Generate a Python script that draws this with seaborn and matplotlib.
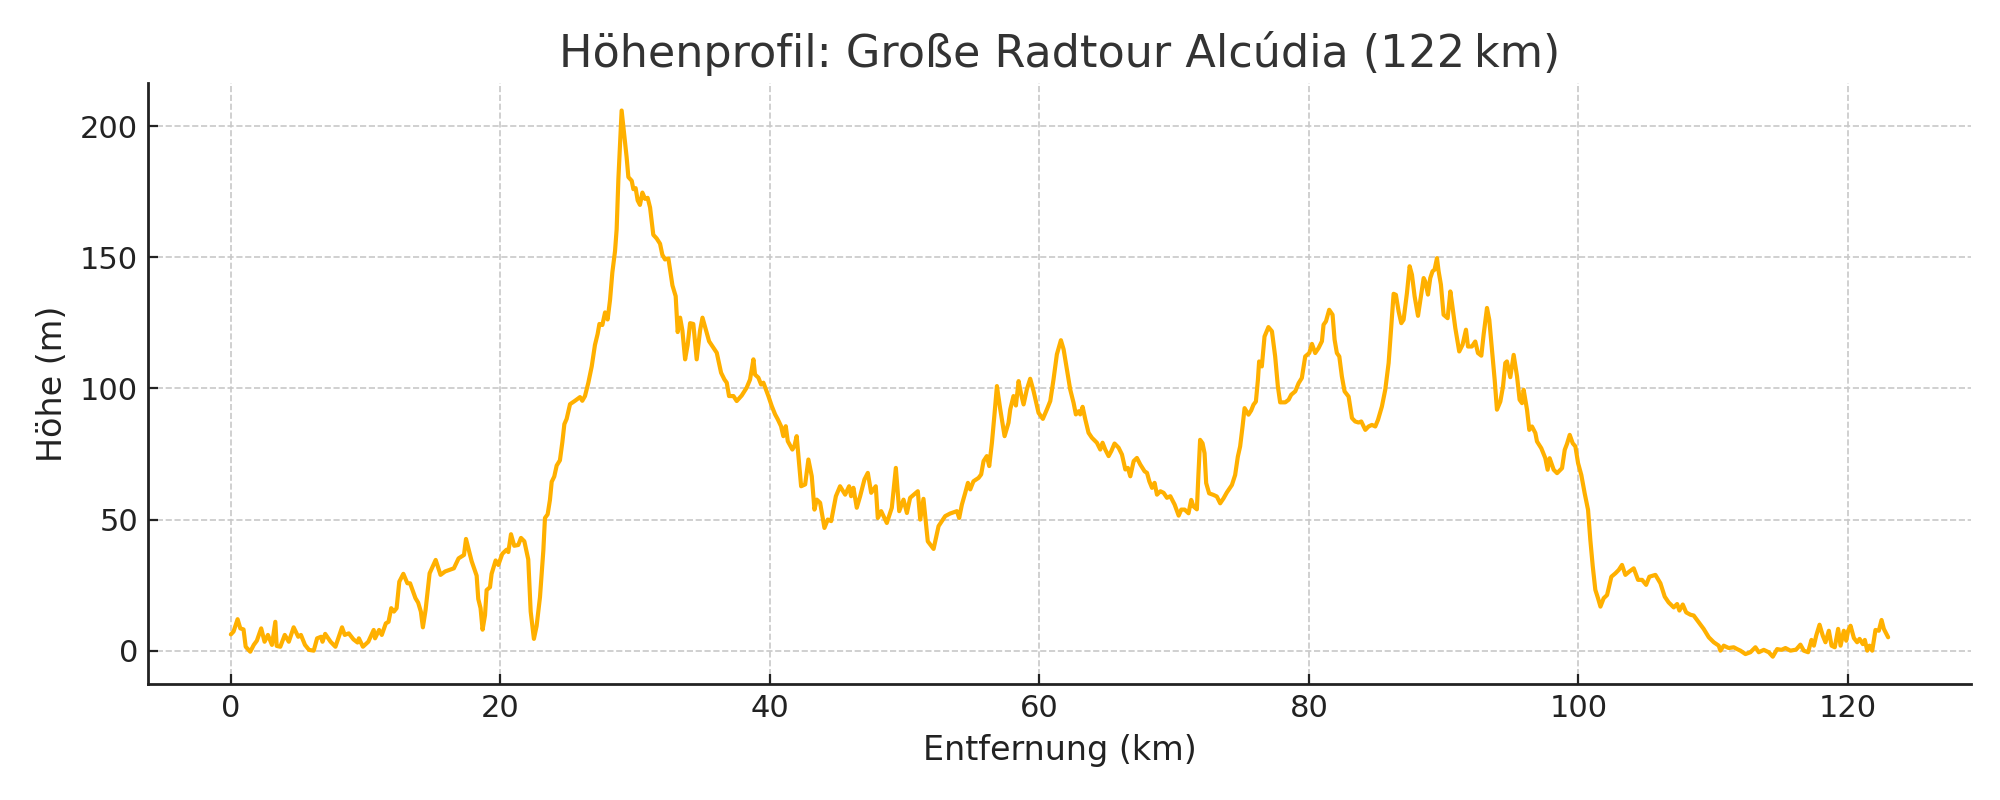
import numpy as np
import pandas as pd
import matplotlib
matplotlib.use("Agg")
import matplotlib.pyplot as plt
import seaborn as sns

# ============================================
# Daten: Höhenprofil, km / m
# ============================================
distanz_km = [
    0.0, 0.2, 0.5, 0.7, 0.94, 1.1, 1.44, 1.7, 1.93, 2.25, 2.5, 2.75, 3.05, 3.3, 3.4, 3.67,
    4.0, 4.3, 4.66, 5.0, 5.2, 5.5, 5.8, 6.15, 6.4, 6.7, 6.8, 7.0, 7.4, 7.76, 8.25, 8.45,
    8.75, 9.1, 9.4, 9.5, 9.8, 10.2, 10.6, 10.7, 11.0, 11.2, 11.5, 11.7, 11.9, 12.1, 12.3,
    12.5, 12.8, 13.1, 13.3, 13.7, 13.9, 14.1, 14.25, 14.45, 14.75, 15.2, 15.56, 15.9,
    16.55, 16.9, 17.3,
    17.45, 17.87, 18.24, 18.36, 18.53, 18.68, 18.86, 18.98, 19.23, 19.35, 19.65, 19.85,
    20.14, 20.46, 20.59, 20.79, 21.03, 21.33, 21.53, 21.78, 22.07, 22.25, 22.49, 22.69,
    22.94, 23.19, 23.31, 23.51, 23.68, 23.81, 24.0, 24.18, 24.42, 24.6, 24.75, 24.92,
    25.17, 25.54, 25.91, 26.08, 26.28, 26.53, 26.78, 27.02, 27.22, 27.35, 27.57, 27.77,
    27.96, 28.14, 28.31, 28.51, 28.63, 28.76, 29.0, 29.2, 29.37, 29.5, 29.75, 29.87,
    30.04, 30.19, 30.36, 30.54, 30.74, 30.93, 31.11, 31.35, 31.6, 31.85, 32.02, 32.22,
    32.47, 32.59, 32.77, 33.01, 33.16, 33.34, 33.51, 33.71, 33.9, 34.08, 34.32, 34.57,
    34.82, 35.0,
    35.49, 35.81, 36.06, 36.38, 36.63, 36.8, 36.97, 37.3, 37.54, 37.91, 38.28, 38.53,
    38.78, 38.9, 39.15, 39.35, 39.52, 39.89, 40.14, 40.39, 40.59, 40.83, 41.0, 41.18,
    41.33, 41.67, 41.82, 41.99, 42.32, 42.62, 42.86, 43.11, 43.31, 43.48, 43.73, 44.05,
    44.3, 44.55, 44.9, 45.21, 45.59, 45.88, 46.03, 46.2, 46.45, 46.7, 47.02, 47.27,
    47.52, 47.86, 48.01, 48.26, 48.68, 49.05, 49.35, 49.6, 49.92, 50.17, 50.41, 50.98,
    51.16, 51.4, 51.72, 52.15, 52.52, 53.01,
    53.38, 53.88, 54.05, 54.25, 54.5, 54.7, 54.87, 55.11, 55.49, 55.68, 55.86, 56.1,
    56.28, 56.48, 56.67, 56.85, 57.1, 57.42, 57.71, 57.84, 58.08, 58.26, 58.46, 58.65,
    58.83, 59.07, 59.32, 59.57, 59.94, 60.26, 60.56, 60.81, 61.05, 61.3, 61.6, 61.8,
    62.04, 62.29, 62.54, 62.71, 62.91, 63.03, 63.21, 63.41, 63.65, 63.9, 64.27, 64.52,
    64.69, 64.89, 65.14, 65.34, 65.58, 65.88, 66.13, 66.38, 66.57, 66.75, 67.0, 67.24,
    67.49, 67.81, 67.99, 68.16, 68.36, 68.55, 68.73, 68.98, 69.22, 69.47, 69.72, 70.04,
    70.34, 70.53, 70.78,
    71.07, 71.27, 71.44, 71.69, 71.81, 71.93, 72.11, 72.26, 72.38, 72.6, 72.92, 73.17,
    73.42, 73.67, 73.91, 74.29, 74.53, 74.73, 74.9, 75.08, 75.23, 75.52, 75.72, 75.89,
    76.07, 76.22, 76.31, 76.51, 76.71, 77.0, 77.26, 77.5, 77.7, 77.87, 78.25, 78.5,
    78.69, 78.99, 79.24, 79.48, 79.73, 80.03, 80.23, 80.47, 80.72, 80.97, 81.09, 81.27,
    81.51, 81.76, 81.91, 82.08, 82.26, 82.45, 82.65, 82.95, 83.2, 83.44, 83.69, 83.89,
    84.19, 84.43, 84.68, 84.93, 85.13, 85.42, 85.67, 85.92, 86.12, 86.29, 86.46, 86.66,
    86.86, 87.03, 87.28, 87.48, 87.65, 87.85, 88.1, 88.35, 88.52,
    88.64, 88.84, 89.01, 89.18, 89.33, 89.51, 89.63, 89.8, 90.0, 90.3, 90.5, 90.62,
    90.87, 91.16, 91.41, 91.66, 91.81, 92.1, 92.35, 92.55, 92.8, 92.97, 93.22, 93.39,
    93.59, 93.79, 93.96, 94.21, 94.41, 94.58, 94.7, 94.95, 95.2, 95.45, 95.64, 95.82,
    95.94, 96.19, 96.36, 96.56, 96.81, 96.93, 97.25, 97.55, 97.72, 97.87, 98.17, 98.42,
    98.79, 98.99, 99.16, 99.36, 99.58, 99.78, 99.98, 100.22, 100.47, 100.72, 100.89,
    101.07, 101.26, 101.46, 101.64, 101.88, 102.13, 102.45, 102.75, 103.0, 103.24,
    103.49, 103.79, 104.11, 104.43, 104.73, 105.03, 105.27, 105.72, 106.09, 106.41,
    106.7, 107.08, 107.33, 107.5, 107.75, 108.0, 108.32, 108.56, 108.94, 109.3, 109.68,
    110.05, 110.42, 110.54, 110.79, 111.16, 111.53, 111.78, 112.03, 112.4, 112.77,
    113.14, 113.39, 113.76, 114.13, 114.43, 114.75, 115.07, 115.37, 115.74, 116.16,
    116.48, 116.73, 117.05, 117.3, 117.48, 117.65, 117.9, 118.14, 118.34, 118.59,
    118.79, 119.03, 119.28, 119.46, 119.7, 119.88, 120.02, 120.2, 120.45, 120.69,
    120.87, 121.11, 121.26, 121.44, 121.61, 121.81, 122.05, 122.3, 122.5, 122.67, 122.99,
]

hoehe_m = [
    6.2, 7.3, 12, 8.5, 8.1, 1.5, -0.4, 2.2, 3.8, 8.5, 3.4, 6, 2.2, 11, 1.8, 1.5,
    6, 3.4, 8.9, 5.3, 6, 2.2, 0.3, 0, 4.7, 5.3, 3.4, 6.4, 3.4, 1.5, 8.9, 6,
    6.6, 4.3, 3.1, 4.7, 1.5, 3.4, 7.9, 4.7, 7.9, 6, 10.4, 11, 16.2, 14.9, 16.2,
    26.3, 29.3, 25.7, 25.7, 20, 18.3, 14.9, 8.9, 15.5, 29.5, 34.6, 28.9, 30.2,
    31.4, 35.2, 36.5,
    42.6, 34.1, 28.6, 19.7, 16.2, 8, 13.5, 23.1, 24.2, 29.3, 34.4, 32.7,
    36.9, 38.5, 37.6, 44.4, 40, 40.3, 43, 41.7, 34.8, 14.9, 4.5, 9.4,
    20.4, 38.2, 50.6, 52, 57.5, 64.4, 66.4, 70.6, 72.6, 79.5, 86.4, 88.4,
    94, 95.3, 96.7, 95.3, 97.1, 102.2, 108.4, 116.6, 120.8, 124.6, 124.2, 129,
    126.3, 133.8, 144.2, 152.4, 160.7, 180, 206, 196.4, 188.2, 180.6, 179.2, 176,
    176.4, 171.7, 170, 174.7, 172.3, 172.7, 169, 158.6, 157.2, 155.2, 151, 149.2,
    149.6, 145.5, 139.3, 135.2, 121.5, 127, 122.1, 111.1, 116.6, 124.9, 124.6, 111.1,
    122.1, 127,
    118, 115.5, 113.6, 106, 103.4, 102.2, 97.1, 97.1, 95.2, 97.3, 100.3, 103.4,
    111.1, 105.3, 104.1, 101.5, 102.2, 97.1, 93.3, 90.1, 88.2, 85.6, 81.8, 85.6,
    79.9, 76.7, 78, 81.8, 62.7, 63.4, 72.9, 66.5, 53.8, 57.6, 56.4, 46.8,
    50, 49.4, 58.9, 62.7, 59.5, 62.7, 58.9, 62.1, 54.5, 58.9, 65.3, 67.8,
    60.2, 62.7, 50.6, 53.2, 48.7, 54.5, 69.7, 53.2, 57.6, 52.5, 58.3, 60.8,
    50, 57.9, 41.7, 38.8, 47.5, 51.3,
    52.3, 53.2, 50.6, 55.7, 60.2, 64, 61.5, 64.6, 65.9, 67.2, 72.3, 74.2,
    70.4, 79.3, 90.1, 100.9, 92, 81.8, 86.9, 92, 97.1, 93.5, 102.8, 97.7,
    93.9, 99.6, 103.7, 99, 90.7, 88.4, 92, 95.2, 103.4, 113, 118.4, 114.9,
    107.3, 99.6, 94.5, 90.1, 91.3, 90.1, 93, 88.2, 83.1, 81.2, 79.3, 76.7,
    79.3, 76.7, 74.2, 76.1, 79, 77.4, 74.8, 69.1, 69.7, 66.5, 72.3, 73.5,
    71, 68.4, 67.8, 64.6, 62.1, 64, 59.5, 60.8, 60.2, 58.3, 58.9, 55.7,
    51.5, 53.8, 53.8,
    52.4, 57.5, 55, 53.9, 67.7, 80.4, 79.1, 75.3, 63.9, 60, 59.4, 58.8,
    56.2, 58.1, 60.3, 63.2, 67, 74, 77.9, 85.5, 92.5, 90, 91.6, 93.8,
    95, 103.3, 110.3, 108.4, 119.8, 123.4, 121.8, 112.2, 100.8, 94.7, 94.7, 95.7,
    97.6, 98.9, 102, 104, 112.2, 113.5, 117, 113.5, 115.4, 118, 124.3, 125.6,
    130, 128.1, 118.6, 113.5, 112.2, 104.6, 98.9, 96.9, 88.7, 87.4, 87, 87.4,
    84.2, 85.5, 86.1, 85.5, 88, 93.1, 99.5, 109.7, 123.7, 136.1, 135.7, 129.4,
    124.9, 126.2, 136.4, 146.6, 143.4, 135.1, 127.7, 136.4, 142.1,
    140.8, 135.8, 142.1, 144.7, 145.3, 149.7, 144.7, 139.6, 128.1, 126.8, 137, 132.6,
    123, 114.1, 116.7, 122.4, 116, 116, 117.9, 113.5, 112.5, 120.5, 130.7, 126.2,
    114.8, 103.3, 91.9, 95, 100.8, 109.7, 110.3, 104.3, 112.8, 104.6, 95.7, 94.4,
    99.5, 91.9, 84.2, 85.5, 83, 79.8, 77.2, 73.4, 69, 73.4, 69, 67.7,
    69.6, 76.6, 78.9, 82.3, 79.1, 77.9, 71.5, 67, 60, 53.7, 42.2,
    32.1, 23.2, 20, 16.8, 20, 21.2, 28.2, 29.5, 30.8, 32.7,
    28.9, 30.2, 31.4, 27, 27, 25.1, 28.2, 28.9, 25.7, 20.6,
    18.4, 16.5, 17.8, 15.3, 17.6, 14.6, 13.7, 13.4, 10.8, 8.3, 5.1,
    3.2, 1.9, 0, 1.9, 1, 1.3, 0.6, 0, -1.3, -0.6,
    1.3, -0.6, 0.3, -0.6, -2.3, 0.6, 0.3, 1, 0, 0.4,
    2.3, 0, -0.6, 4.1, 1.9, 5.7, 9.9, 5.7, 3.2, 7.6,
    1.9, 1.3, 8.3, 1.9, 7.6, 3.8, 7.6, 9.5, 4.8, 3.2,
    4.5, 2.5, 4.1, 0, 1.9, 0, 7.9, 7.6, 11.7, 8.3, 5.1,
]

titel = "Höhenprofil: Große Radtour Alcúdia (122\u2009km)"
x_label = "Entfernung (km)"
y_label = "Höhe (m)"
linien_farbe = "#FFB000"

df = pd.DataFrame({"km": distanz_km, "hoehe": hoehe_m})

# ============================================
# Plot
# ============================================
sns.set_style("ticks")
plt.rcParams["font.family"] = ["DejaVu Sans"]

fig, ax = plt.subplots(figsize=(10, 4), dpi=200)
fig.subplots_adjust(left=0.074, right=0.9855, bottom=0.145, top=0.896)

sns.lineplot(data=df, x="km", y="hoehe", ax=ax, color=linien_farbe,
             linewidth=1.5, estimator=None, sort=False)

ax.set_title(titel, fontsize=16, color="#333333")
ax.set_xlabel(x_label, fontsize=12, color="#222222")
ax.set_ylabel(y_label, fontsize=12, color="#222222")
ax.tick_params(direction="in", labelsize=11, colors="#222222")
ax.set_xticks([0, 20, 40, 60, 80, 100, 120])
ax.set_yticks([0, 50, 100, 150, 200])

ax.grid(True, linestyle="--", linewidth=0.6, color="#c8c8c8")
sns.despine(ax=ax)
for side in ["left", "bottom"]:
    ax.spines[side].set_color("#222222")
    ax.spines[side].set_linewidth(1.0)

fig.savefig("out.png", dpi=200)
